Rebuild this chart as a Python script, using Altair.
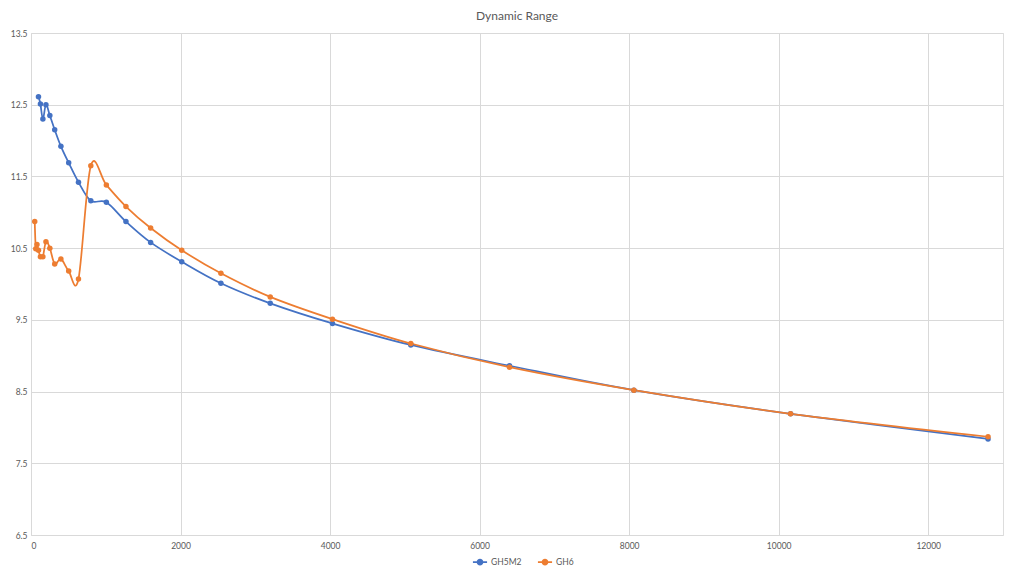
import altair as alt
import pandas as pd

# ISO values (x) and dynamic range (y)
gh5m2_iso = [100, 126, 159, 200, 252, 317, 400, 504, 635, 800, 1008, 1270,
             1600, 2016, 2540, 3200, 4032, 5080, 6400, 8063, 10159, 12800]
gh5m2_dr = [12.61, 12.51, 12.30, 12.50, 12.35, 12.15, 11.92, 11.69, 11.42, 11.16, 11.14, 10.87,
            10.58, 10.31, 10.01, 9.73, 9.45, 9.15, 8.86, 8.52, 8.19, 7.84]

gh6_iso = [50, 64, 80, 100, 126, 159, 200, 252, 317, 400, 504, 635, 800, 1008, 1270,
           1600, 2016, 2540, 3200, 4032, 5080, 6400, 8063, 10159, 12800]
gh6_dr = [10.87, 10.49, 10.55, 10.47, 10.38, 10.38, 10.59, 10.50, 10.28, 10.35, 10.18, 10.07,
          11.65, 11.38, 11.08, 10.78, 10.47, 10.15, 9.82, 9.51, 9.17, 8.84, 8.52, 8.19, 7.87]

series = ["GH5M2", "GH6"]
colors = ["#4472C4", "#ED7D31"]
x_ticks = [0, 2000, 4000, 6000, 8000, 10000, 12000]
y_ticks = [6.5, 7.5, 8.5, 9.5, 10.5, 11.5, 12.5, 13.5]

rows = []
for i, (x, y) in enumerate(zip(gh5m2_iso, gh5m2_dr)):
    rows.append({"series": "GH5M2", "iso": x, "dr": y, "idx": i})
for i, (x, y) in enumerate(zip(gh6_iso, gh6_dr)):
    rows.append({"series": "GH6", "iso": x, "dr": y, "idx": i})
df = pd.DataFrame(rows)

FONT = "Lato"
GRAY = "#595959"

x_enc = alt.X("iso:Q", scale=alt.Scale(domain=[0, 13000], nice=False, zero=False),
              axis=alt.Axis(values=x_ticks, format="d", title=None, grid=True,
                            gridColor="#D9D9D9", domain=False, ticks=False,
                            labelColor=GRAY, labelFontSize=8.5, labelFont=FONT,
                            labelPadding=6))
y_enc = alt.Y("dr:Q", scale=alt.Scale(domain=[6.5, 13.5], nice=False, zero=False),
              axis=alt.Axis(values=y_ticks, format=".1f", title=None, grid=True,
                            gridColor="#D9D9D9", domain=False, ticks=False,
                            labelColor=GRAY, labelFontSize=8.5, labelFont=FONT,
                            labelPadding=4))

legend_path = "M-1,0L1,0M-0.36,0a0.36,0.36 0 1,0 0.72,0a0.36,0.36 0 1,0 -0.72,0"
legend = alt.Legend(title=None, orient="none", direction="horizontal",
                    legendX=441, legendY=521,
                    symbolType=legend_path, symbolSize=200,
                    symbolStrokeWidth=1.6,
                    labelColor=GRAY, labelFontSize=8.5, labelFont=FONT,
                    columnPadding=12, labelOffset=3)
color_enc = alt.Color("series:N", scale=alt.Scale(domain=series, range=colors),
                      legend=legend)

base = alt.Chart(df)

lines = base.mark_line(interpolate="cardinal", strokeWidth=1.75).encode(
    x=x_enc, y=y_enc, color=color_enc, order="idx:Q")

points = base.mark_point(filled=True, size=30, opacity=1).encode(
    x=x_enc, y=y_enc, color=color_enc)

chart = (lines + points).properties(
    width=972, height=502,
    title=alt.TitleParams("Dynamic Range", fontSize=12, font=FONT, color=GRAY,
                          fontWeight="normal", anchor="middle", offset=6),
    autosize=alt.AutoSizeParams(type="none"),
    padding={"left": 23, "top": 25, "right": 12, "bottom": 33},
).configure_view(stroke=None).configure(background="white")

chart.save("out.html", embed_options={"renderer": "svg", "actions": False})
